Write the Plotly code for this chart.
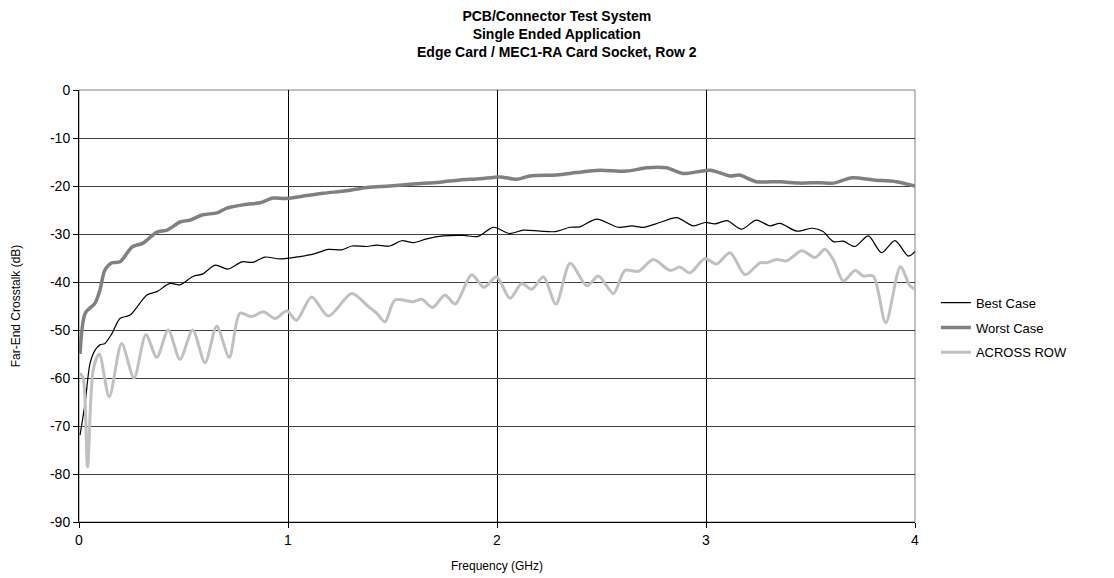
import plotly.graph_objects as go

# Best Case (thin black)
best_f = [0.005, 0.029, 0.053, 0.077, 0.10, 0.124, 0.158, 0.196, 0.244, 0.325, 0.373, 0.435, 0.483,
          0.547, 0.593, 0.651, 0.713, 0.78, 0.833, 0.89, 0.962, 1.057, 1.121, 1.193, 1.257, 1.305,
          1.377, 1.424, 1.488, 1.544, 1.60, 1.664, 1.743, 1.839, 1.91, 1.982, 2.06, 2.126, 2.206,
          2.278, 2.35, 2.397, 2.477, 2.58, 2.645, 2.70, 2.78, 2.86, 2.94, 2.995, 3.043, 3.10, 3.17,
          3.24, 3.306, 3.354, 3.434, 3.51, 3.56, 3.61, 3.657, 3.713, 3.777, 3.84, 3.904, 3.968, 4.0]
best_db = [-71.9, -65.3, -56.9, -54.2, -53.1, -52.8, -50.7, -47.6, -46.9, -42.7, -42.0, -40.3, -40.6,
           -38.8, -38.3, -36.5, -37.3, -35.8, -35.9, -34.8, -35.2, -34.7, -34.2, -33.2, -33.3, -32.5,
           -32.6, -32.3, -32.5, -31.4, -31.8, -31.0, -30.4, -30.3, -30.5, -28.6, -29.9, -29.2, -29.4,
           -29.5, -28.6, -28.5, -26.9, -28.6, -28.3, -28.6, -27.6, -26.6, -28.3, -27.6, -27.9, -27.2, -29.0,
           -27.1, -28.3, -27.8, -29.4, -28.8, -29.5, -31.6, -31.5, -32.6, -30.4, -33.9, -31.4, -34.6, -33.7]

# Worst Case (thick dark grey)
worst_f = [0.005, 0.03, 0.077, 0.10, 0.124, 0.158, 0.196, 0.254, 0.306, 0.373, 0.421, 0.483, 0.531,
           0.593, 0.66, 0.708, 0.804, 0.866, 0.928, 0.99, 1.09, 1.168, 1.28, 1.377, 1.488, 1.60, 1.727,
           1.823, 1.919, 2.014, 2.094, 2.158, 2.286, 2.38, 2.49, 2.62, 2.716, 2.81, 2.89, 3.02,
           3.115, 3.16, 3.24, 3.354, 3.45, 3.545, 3.61, 3.70, 3.80, 3.91, 4.0]
worst_db = [-55.0, -46.5, -44.4, -41.7, -37.5, -36.0, -35.8, -32.7, -31.9, -29.6, -29.2, -27.5, -27.1,
            -26.0, -25.6, -24.6, -23.8, -23.5, -22.5, -22.6, -22.0, -21.5, -21.0, -20.3, -20.0, -19.6, -19.2,
            -18.75, -18.5, -18.1, -18.6, -17.9, -17.7, -17.2, -16.7, -16.9, -16.2, -16.2, -17.4, -16.7,
            -17.9, -17.7, -19.1, -19.1, -19.4, -19.3, -19.4, -18.3, -18.75, -19.1, -20.0]

# Across Row (light grey)
across_f = [0.005, 0.02, 0.041, 0.068, 0.097, 0.145, 0.204, 0.263, 0.32, 0.372, 0.427, 0.483, 0.544,
            0.603, 0.659, 0.719, 0.77, 0.826, 0.882, 0.938, 0.995, 1.04, 1.113, 1.193, 1.305, 1.384,
            1.424, 1.464, 1.512, 1.60, 1.64, 1.692, 1.751, 1.80, 1.879, 1.938, 1.998, 2.062, 2.118,
            2.166, 2.222, 2.282, 2.35, 2.43, 2.485, 2.557, 2.612, 2.676, 2.748, 2.828, 2.876, 2.923,
            2.995, 3.05, 3.115, 3.187, 3.258, 3.29, 3.338, 3.386, 3.458, 3.522, 3.569, 3.61, 3.657,
            3.713, 3.753, 3.80, 3.86, 3.93, 3.976, 4.0]
across_db = [-59.0, -60.0, -78.5, -58.3, -55.0, -63.9, -52.8, -60.0, -51.0, -55.7, -50.0, -56.1, -50.0,
             -56.8, -49.2, -55.7, -46.5, -47.2, -46.2, -47.6, -46.0, -48.0, -43.1, -47.1, -42.4, -45.1,
             -46.5, -48.3, -43.75, -44.1, -43.6, -45.3, -42.7, -44.6, -38.5, -41.1, -38.9, -43.4, -40.3,
             -41.5, -38.9, -44.6, -36.1, -40.8, -38.75, -42.4, -37.6, -37.8, -35.3, -37.6, -36.9, -38.1,
             -35.1, -36.25, -33.9, -38.5, -36.0, -36.0, -35.3, -35.6, -33.5, -34.9, -33.2, -35.4, -39.8,
             -37.6, -38.75, -38.75, -48.5, -36.8, -40.8, -41.5]

x_ticks = [0, 1, 2, 3, 4]
y_ticks = [0, -10, -20, -30, -40, -50, -60, -70, -80, -90]
title_lines = ["PCB/Connector Test System", "Single Ended Application",
               "Edge Card / MEC1-RA Card Socket, Row 2"]

FONT = "Liberation Sans, Arial, sans-serif"

fig = go.Figure()
fig.add_trace(go.Scatter(x=best_f, y=best_db, mode="lines", name="Best Case",
                         line=dict(color="#000000", width=1.2, shape="spline", smoothing=0.8),
                         legendgroup="a"))
fig.add_trace(go.Scatter(x=worst_f, y=worst_db, mode="lines", name="Worst Case",
                         line=dict(color="#808080", width=3.5, shape="spline", smoothing=0.8),
                         legendgroup="b"))
fig.add_trace(go.Scatter(x=across_f, y=across_db, mode="lines", name="ACROSS ROW",
                         line=dict(color="#c0c0c0", width=3, shape="spline", smoothing=0.8),
                         legendgroup="c"))

fig.update_layout(
    width=1114, height=578,
    margin=dict(l=79, r=199, t=90, b=56, autoexpand=False),
    paper_bgcolor="white", plot_bgcolor="white",
    font=dict(family=FONT, color="black", size=13),
    xaxis=dict(range=[0, 4], tickvals=x_ticks, ticktext=[str(v) for v in x_ticks],
               showgrid=True, gridcolor="#000000", gridwidth=1,
               showline=True, linecolor="#000000", linewidth=1,
               ticks="outside", ticklen=5, tickcolor="#000000", automargin=False,
               zeroline=False, title=dict(text="Frequency (GHz)", font=dict(size=12), standoff=14),
               tickfont=dict(size=14)),
    yaxis=dict(range=[-90, 0], tickvals=y_ticks, ticktext=[str(v) for v in y_ticks],
               showgrid=True, gridcolor="#404040", gridwidth=1,
               showline=True, linecolor="#000000", linewidth=1,
               ticks="outside", ticklen=5, tickcolor="#000000", automargin=False,
               zeroline=False, title=dict(text="Far-End Crosstalk (dB)", font=dict(size=12), standoff=26),
               tickfont=dict(size=14)),
    legend=dict(x=1.025, y=0.45, xanchor="left", yanchor="middle",
                bgcolor="rgba(0,0,0,0)", font=dict(size=13), tracegroupgap=5),
    showlegend=True,
)

fig.add_annotation(text="<b>" + "<br>".join(title_lines) + "</b>",
                   xref="paper", yref="paper", x=(557 - 79) / 836, y=(522 - 6) / 432,
                   xanchor="center", yanchor="top", showarrow=False, align="center",
                   font=dict(family=FONT, size=14, color="black"))

fig.add_shape(type="rect", xref="paper", yref="paper", x0=0, y0=0, x1=1, y1=1,
              line=dict(color="#808080", width=1), layer="below")

fig.write_html("out.html")
